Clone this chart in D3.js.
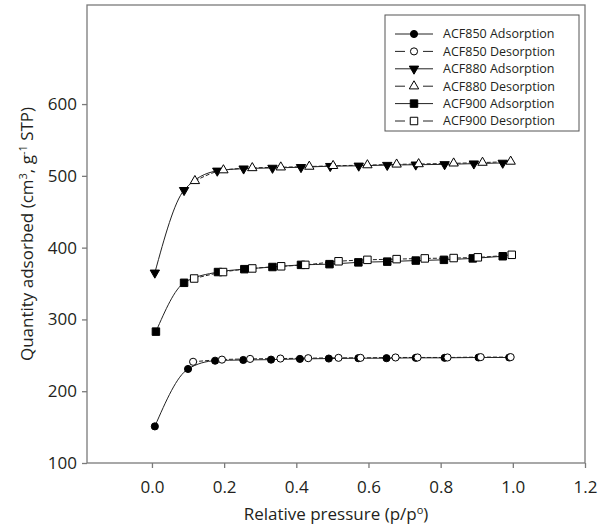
<!DOCTYPE html>
<html>
<head>
<meta charset="utf-8">
<script src="https://cdn.jsdelivr.net/npm/d3@7"></script>
<style>
body { margin: 0; background: #fff; }
text { font-family: "Open Sans", sans-serif; fill: #231f20; }
</style>
</head>
<body>
<div id="chart"></div>
<script>
// relative pressure (p/p0) of each measured point
var p850Ads = [0.008, 0.10, 0.175, 0.253, 0.33, 0.41, 0.49, 0.572, 0.65, 0.731, 0.811, 0.905, 0.99];
var p850Des = [0.114, 0.194, 0.272, 0.356, 0.433, 0.517, 0.578, 0.675, 0.736, 0.819, 0.911, 0.994];
var p880Ads = [0.008, 0.089, 0.181, 0.254, 0.334, 0.413, 0.494, 0.573, 0.652, 0.731, 0.811, 0.892, 0.972];
var p880Des = [0.119, 0.198, 0.278, 0.357, 0.436, 0.502, 0.597, 0.678, 0.739, 0.836, 0.916, 0.994];
var p900Ads = [0.011, 0.089, 0.183, 0.256, 0.334, 0.413, 0.492, 0.572, 0.652, 0.731, 0.809, 0.889, 0.972];
var p900Des = [0.117, 0.197, 0.278, 0.358, 0.425, 0.517, 0.597, 0.678, 0.756, 0.836, 0.903, 0.997];

// quantity adsorbed (cm3 g-1 STP)
var q850Ads = [151, 231, 242.5, 243.5, 244, 245, 245.5, 246, 246, 246.5, 246.5, 247, 247];
var q850Des = [241, 244, 245, 245.5, 246, 246.5, 246.5, 247, 247, 247, 247.5, 247.5];
var q880Ads = [365, 480, 507, 510, 511, 512, 513.5, 514, 515, 515.5, 516, 517, 518];
var q880Des = [493, 508, 511, 512, 513, 514, 515, 516, 516.5, 517.5, 518.5, 520];
var q900Ads = [283, 351, 366, 370, 373, 376, 377, 379.5, 380.5, 382, 383, 385, 388];
var q900Des = [357, 366, 371, 374, 376, 381, 383, 384, 385, 385.5, 386.5, 390];

var xTicks = [0, 0.2, 0.4, 0.6, 0.8, 1.0, 1.2];
var yTicks = [100, 200, 300, 400, 500, 600];

var series = [
    {name: "ACF850 Adsorption", p: p850Ads, q: q850Ads, symbol: d3.symbolCircle, size: 40, filled: true, dashed: false, rot: 0},
    {name: "ACF850 Desorption", p: p850Des, q: q850Des, symbol: d3.symbolCircle, size: 40, filled: false, dashed: true, rot: 0},
    {name: "ACF880 Adsorption", p: p880Ads, q: q880Ads, symbol: d3.symbolTriangle, size: 38, filled: true, dashed: false, rot: 180},
    {name: "ACF880 Desorption", p: p880Des, q: q880Des, symbol: d3.symbolTriangle, size: 38, filled: false, dashed: true, rot: 0},
    {name: "ACF900 Adsorption", p: p900Ads, q: q900Ads, symbol: d3.symbolSquare, size: 56, filled: true, dashed: false, rot: 0},
    {name: "ACF900 Desorption", p: p900Des, q: q900Des, symbol: d3.symbolSquare, size: 56, filled: false, dashed: true, rot: 0}
];

var margin = {top: 5, right: 18, bottom: 65, left: 87},
    width = 603 - margin.left - margin.right,
    height = 528 - margin.top - margin.bottom;

var x = d3.scaleLinear()
    .domain([-0.18, 1.2])
    .range([0, width]);

var y = d3.scaleLinear()
    .domain([100, 738])
    .range([height, 0]);

var svg = d3.select("#chart").append("svg")
    .attr("width", 603)
    .attr("height", 528);

var chart = svg.append("g")
    .attr("transform", `translate(${margin.left}, ${margin.top})`);

// frame
chart.append("rect")
    .attr("width", width)
    .attr("height", height)
    .attr("fill", "none")
    .attr("stroke", "#7a7a7a")
    .attr("stroke-width", 1.3);

// axes
var xAxis = chart.append("g")
    .attr("transform", "translate(0," + height + ")")
    .call(d3.axisBottom(x).tickValues(xTicks).tickFormat(d3.format(".1f"))
        .tickSizeInner(5).tickSizeOuter(0).tickPadding(13));

var yAxis = chart.append("g")
    .call(d3.axisLeft(y).tickValues(yTicks)
        .tickSizeInner(5).tickSizeOuter(0).tickPadding(5));

chart.selectAll(".domain").remove();
chart.selectAll(".tick line").attr("stroke", "#7a7a7a").attr("stroke-width", 1.3);
chart.selectAll(".tick text")
    .attr("font-size", 17)
    .attr("font-family", "'Open Sans', sans-serif")
    .attr("fill", "#231f20");

// axis titles
var xTitle = svg.append("text")
    .attr("x", margin.left + width / 2)
    .attr("y", 520)
    .attr("text-anchor", "middle")
    .attr("font-size", 17);
xTitle.append("tspan").text("Relative pressure (p/p");
xTitle.append("tspan").attr("font-size", 11).attr("dy", -6).text("o");
xTitle.append("tspan").attr("dy", 6).text(")");

var yTitle = svg.append("text")
    .attr("transform", "translate(33," + (margin.top + height / 2) + ") rotate(-90)")
    .attr("text-anchor", "middle")
    .attr("font-size", 17);
yTitle.append("tspan").text("Quantity adsorbed (cm");
yTitle.append("tspan").attr("font-size", 11).attr("dy", -6).text("3");
yTitle.append("tspan").attr("dy", 6).text(", g");
yTitle.append("tspan").attr("font-size", 11).attr("dy", -6).text("-1");
yTitle.append("tspan").attr("dy", 6).text(" STP)");

// lines
var line = d3.line()
    .x(function (d) { return x(d[0]); })
    .y(function (d) { return y(d[1]); })
    .curve(d3.curveMonotoneX);

function points(s) {
    return s.p.map(function (p, i) { return [p, s.q[i]]; });
}

series.forEach(function (s) {
    chart.append("path")
        .datum(points(s))
        .attr("d", line)
        .attr("fill", "none")
        .attr("stroke", "#222")
        .attr("stroke-width", 1)
        .attr("stroke-dasharray", s.dashed ? "4,2" : null);
});

// markers
series.forEach(function (s) {
    chart.selectAll(null)
        .data(points(s))
        .enter().append("path")
        .attr("d", d3.symbol().type(s.symbol).size(s.size))
        .attr("transform", function (d) {
            return "translate(" + x(d[0]) + "," + y(d[1]) + ") rotate(" + s.rot + ")";
        })
        .attr("fill", s.filled ? "#000" : "#fff")
        .attr("stroke", "#000")
        .attr("stroke-width", 1);
});

// legend
var legend = svg.append("g")
    .attr("transform", "translate(385,15)");

legend.append("rect")
    .attr("width", 194)
    .attr("height", 116)
    .attr("fill", "#fff")
    .attr("stroke", "#555")
    .attr("stroke-width", 1);

var rows = legend.selectAll(".row")
    .data(series)
    .enter().append("g")
    .attr("class", "row")
    .attr("transform", function (d, i) { return "translate(0," + (19 + i * 17.4) + ")"; });

rows.each(function (s) {
    var g = d3.select(this);
    if (s.dashed) {
        g.append("line").attr("x1", 10).attr("x2", 20).attr("stroke", "#222");
        g.append("line").attr("x1", 38).attr("x2", 48).attr("stroke", "#222");
    } else {
        g.append("line").attr("x1", 10).attr("x2", 48).attr("stroke", "#222");
    }
    g.append("path")
        .attr("d", d3.symbol().type(s.symbol).size(s.size))
        .attr("transform", "translate(29,0) rotate(" + s.rot + ")")
        .attr("fill", s.filled ? "#000" : "#fff")
        .attr("stroke", "#000");
    g.append("text")
        .attr("x", 58)
        .attr("dy", "0.35em")
        .attr("font-size", 12.5)
        .text(s.name);
});
</script>
</body>
</html>
